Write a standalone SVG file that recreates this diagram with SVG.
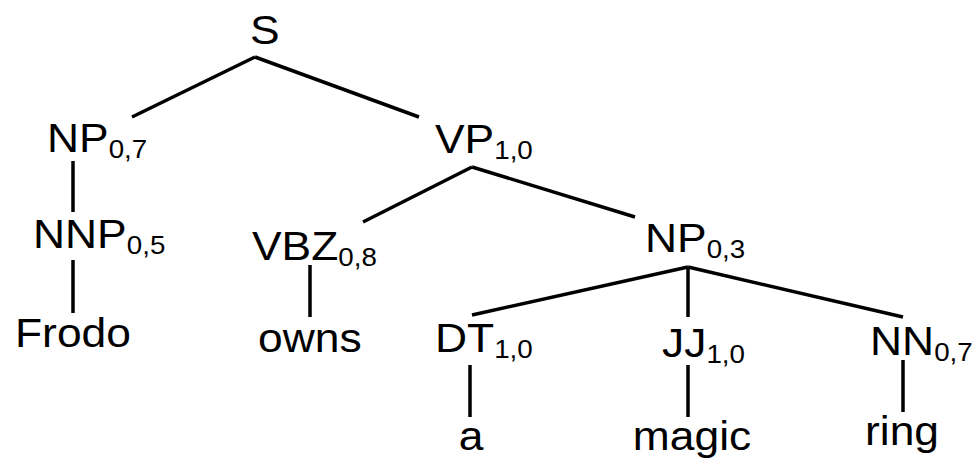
<svg xmlns="http://www.w3.org/2000/svg" width="975" height="458" viewBox="0 0 975 458">
<style>
.lbl{font-family:"Liberation Sans",Arial,sans-serif;font-size:40px;fill:#000}
.sub{font-size:25px}
.edge{stroke:#000;stroke-width:3.5;stroke-linecap:butt;fill:none}
</style>
<rect width="975" height="458" fill="#fff"/>
<g id="edges">
<line class="edge" x1="255" y1="57" x2="132" y2="117"/>
<line class="edge" x1="255" y1="57" x2="419" y2="117"/>
<line class="edge" x1="73" y1="161" x2="73" y2="212"/>
<line class="edge" x1="73" y1="260" x2="73" y2="313"/>
<line class="edge" x1="472" y1="167" x2="363" y2="222"/>
<line class="edge" x1="472" y1="167" x2="635" y2="217"/>
<line class="edge" x1="310" y1="265" x2="310" y2="317"/>
<line class="edge" x1="688" y1="267" x2="472" y2="315"/>
<line class="edge" x1="688" y1="267" x2="688" y2="317"/>
<line class="edge" x1="688" y1="267" x2="903" y2="317"/>
<line class="edge" x1="470" y1="365" x2="470" y2="417"/>
<line class="edge" x1="688" y1="365" x2="688" y2="417"/>
<line class="edge" x1="903" y1="360" x2="903" y2="412"/>
</g>
<g id="n-S"><text class="lbl" transform="translate(250,44) scale(1.11,1)">S</text></g>
<g id="n-NP1"><text class="lbl" transform="translate(47,152) scale(1.11,1)">NP<tspan class="sub" dy="6">0,7</tspan></text></g>
<g id="n-VP"><text class="lbl" transform="translate(435,153) scale(1.11,1)">VP<tspan class="sub" dy="6">1,0</tspan></text></g>
<g id="n-NNP"><text class="lbl" transform="translate(33,248) scale(1.11,1)">NNP<tspan class="sub" dy="6">0,5</tspan></text></g>
<g id="n-VBZ"><text class="lbl" transform="translate(252,260) scale(1.11,1)">VBZ<tspan class="sub" dy="6">0,8</tspan></text></g>
<g id="n-NP2"><text class="lbl" transform="translate(645,252) scale(1.11,1)">NP<tspan class="sub" dy="6">0,3</tspan></text></g>
<g id="n-DT"><text class="lbl" transform="translate(435,352) scale(1.11,1)">DT<tspan class="sub" dy="6">1,0</tspan></text></g>
<g id="n-JJ"><text class="lbl" transform="translate(662,357) scale(1.11,1)">JJ<tspan class="sub" dy="6">1,0</tspan></text></g>
<g id="n-NN"><text class="lbl" transform="translate(870,355) scale(1.11,1)">NN<tspan class="sub" dy="6">0,7</tspan></text></g>
<g id="w-Frodo"><text class="lbl" transform="translate(15,347) scale(1.11,1)">Frodo</text></g>
<g id="w-owns"><text class="lbl" transform="translate(258,352) scale(1.11,1)">owns</text></g>
<g id="w-a"><text class="lbl" text-anchor="middle" transform="translate(471,450) scale(1.11,1)">a</text></g>
<g id="w-magic"><text class="lbl" text-anchor="middle" transform="translate(692,450) scale(1.11,1)">magic</text></g>
<g id="w-ring"><text class="lbl" text-anchor="middle" transform="translate(902,445) scale(1.11,1)">ring</text></g>
</svg>
